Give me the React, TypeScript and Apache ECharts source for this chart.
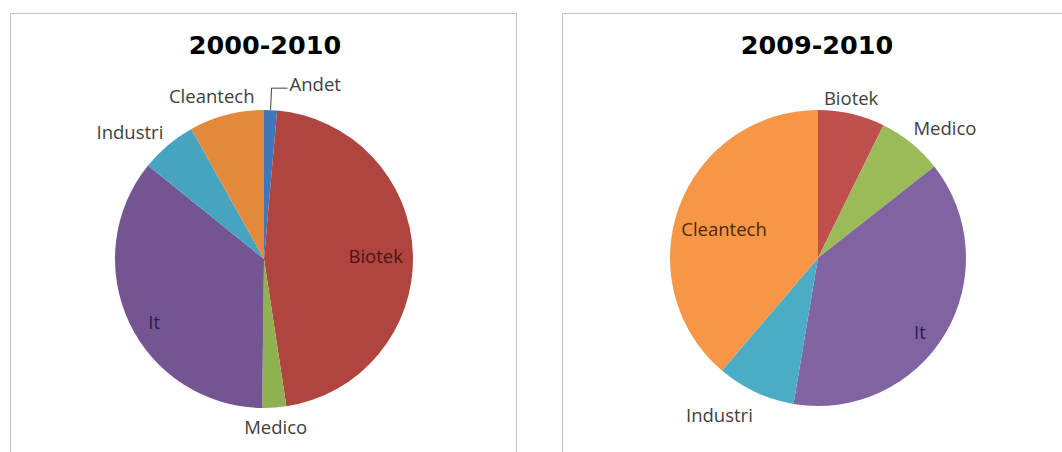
import React, { useEffect, useRef } from 'react';
import * as echarts from 'echarts';

// ---- data ----
const leftTitle = '2000-2010';
const rightTitle = '2009-2010';
const leftCategories = ['Andet', 'Biotek', 'Medico', 'It', 'Industri', 'Cleantech'];
const leftValues = [1.4, 46.2, 2.6, 35.6, 6.1, 8.1];
const rightCategories = ['Biotek', 'Medico', 'It', 'Industri', 'Cleantech'];
const rightValues = [7.3, 7.1, 38.3, 8.6, 38.8];

// ---- styles / layout ----
const LEFT = { cx: 264, cy: 259, r: 149 };
const RIGHT = { cx: 818, cy: 258, r: 148 };
const leftColors = ['#3f77bd', '#b0453f', '#8fb152', '#745592', '#47a4c0', '#e2893c'];
const rightColors = ['#c0504d', '#9bbb59', '#8064a2', '#4bacc6', '#f79646'];
const OUT = '#404040';
type Place = { k: number; da: number; c: string } | null;
const leftPlace: Place[] = [
  null,
  { k: 0.75, da: 0, c: '#4a1616' },
  { k: 1.13, da: 0, c: OUT },
  { k: 0.85, da: -4.6, c: '#2b1d48' },
  { k: 1.24, da: -6.4, c: OUT },
  { k: 1.155, da: -3.1, c: OUT },
];
const rightPlace: Place[] = [
  { k: 1.11, da: -1.5, c: OUT },
  { k: 1.23, da: 5.2, c: OUT },
  { k: 0.85, da: 5.2, c: '#2b1d48' },
  { k: 1.25, da: 7.2, c: OUT },
  { k: 0.665, da: -2.9, c: '#4a2a12' },
];

function labelPos(values: number[], i: number, geo: { cx: number; cy: number; r: number }, p: { k: number; da: number }) {
  const total = values.reduce((a, b) => a + b, 0);
  let before = 0;
  for (let j = 0; j < i; j++) before += values[j];
  const mid = ((before + values[i] / 2) / total) * 360 + p.da;
  const rad = (mid * Math.PI) / 180;
  return { x: geo.cx + geo.r * p.k * Math.sin(rad), y: geo.cy - geo.r * p.k * Math.cos(rad) };
}

const LABEL_FONT = { fontFamily: '"Open Sans", "Noto Sans", sans-serif', fontSize: 18.5 };

function makeSeries(
  cats: string[],
  vals: number[],
  colors: string[],
  place: Place[],
  geo: { cx: number; cy: number; r: number }
) {
  return {
    type: 'pie',
    center: [geo.cx, geo.cy],
    radius: geo.r,
    startAngle: 90,
    clockwise: true,
    avoidLabelOverlap: false,
    silent: true,
    label: { show: true, formatter: '{b}', color: OUT, ...LABEL_FONT },
    itemStyle: { borderWidth: 0 },
    data: cats.map((name, i) => {
      const p = place[i];
      return {
        name,
        value: vals[i],
        itemStyle: { color: colors[i] },
        label: p
          ? { position: 'inside', color: p.c, ...LABEL_FONT }
          : {
              position: 'outside',
              color: OUT,
              distanceToLabelLine: 2,
              formatter: '{b}\n{g| }',
              rich: { g: { fontSize: 2, lineHeight: 10 } },
              ...LABEL_FONT,
            },
        labelLine: p
          ? { show: false }
          : { show: true, length: 22, length2: 16, smooth: false, lineStyle: { color: OUT, width: 1 } },
      };
    }),
    labelLayout: (params: any) => {
      const p = place[params.dataIndex];
      if (!p) return {};
      const { x, y } = labelPos(vals, params.dataIndex, geo, p);
      return { x, y, align: 'center', verticalAlign: 'middle' };
    },
  };
}

export default function App() {
  const ref = useRef<HTMLDivElement>(null);
  useEffect(() => {
    if (!ref.current) return;
    const chart = echarts.init(ref.current, undefined, { renderer: 'svg' });
    const titleFont = 'bold 25.5px "DejaVu Sans", sans-serif';
    chart.setOption({
      animation: false,
      backgroundColor: '#ffffff',
      graphic: [
        { type: 'rect', shape: { x: 10.5, y: 13.5, width: 506, height: 460 }, style: { fill: 'none', stroke: '#c4c4c4', lineWidth: 1 }, silent: true },
        { type: 'rect', shape: { x: 562.5, y: 13.5, width: 520, height: 460 }, style: { fill: 'none', stroke: '#c4c4c4', lineWidth: 1 }, silent: true },
        { type: 'text', x: LEFT.cx + 1, y: 45, style: { text: leftTitle, font: titleFont, fill: '#000000', align: 'center', verticalAlign: 'middle' }, silent: true },
        { type: 'text', x: RIGHT.cx - 1, y: 45, style: { text: rightTitle, font: titleFont, fill: '#000000', align: 'center', verticalAlign: 'middle' }, silent: true },
      ],
      series: [
        makeSeries(leftCategories, leftValues, leftColors, leftPlace, LEFT),
        makeSeries(rightCategories, rightValues, rightColors, rightPlace, RIGHT),
      ],
    });
    return () => chart.dispose();
  }, []);
  return <div ref={ref} style={{ position: 'fixed', left: 0, top: 0, width: 1062, height: 452, background: '#fff' }} />;
}
